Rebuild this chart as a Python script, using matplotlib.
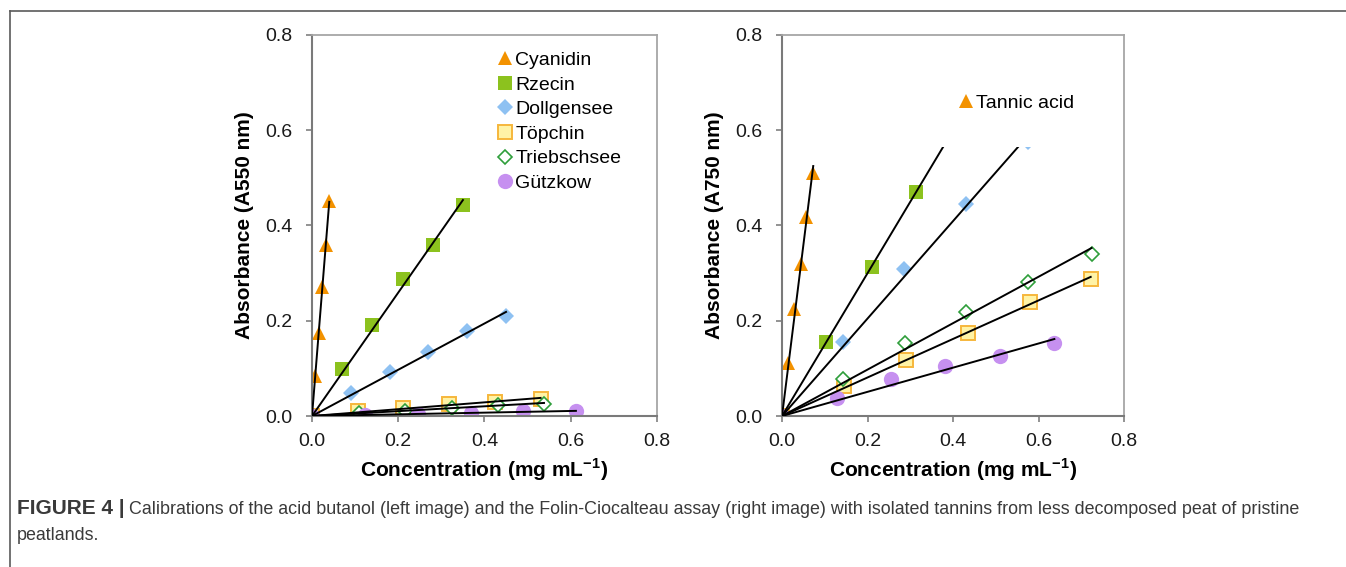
import matplotlib
matplotlib.use("Agg")
import matplotlib.pyplot as plt
import numpy as np
from matplotlib.lines import Line2D
from matplotlib.patches import Rectangle

plt.rcParams["font.family"] = ["Liberation Sans", "DejaVu Sans"]
plt.rcParams["mathtext.fontset"] = "custom"
plt.rcParams["mathtext.rm"] = "Liberation Sans"
plt.rcParams["mathtext.bf"] = "Liberation Sans:bold"

# acid butanol assay (A550)
cyanidin_x = [0, 0.008, 0.016, 0.024, 0.032, 0.040]
cyanidin_y = [0, 0.083, 0.175, 0.271, 0.360, 0.452]
rzecin_x = [0, 0.07, 0.14, 0.21, 0.28, 0.35]
rzecin_y = [0, 0.098, 0.192, 0.288, 0.358, 0.442]
dollgensee_x = [0, 0.09, 0.18, 0.27, 0.36, 0.45]
dollgensee_y = [0, 0.048, 0.092, 0.135, 0.178, 0.211]
toepchin_x = [0, 0.106, 0.212, 0.318, 0.424, 0.53]
toepchin_y = [0, 0.011, 0.016, 0.025, 0.030, 0.036]
triebschsee_x = [0, 0.108, 0.216, 0.324, 0.431, 0.538]
triebschsee_y = [0, 0.007, 0.011, 0.017, 0.023, 0.026]
guetzkow_x = [0, 0.124, 0.246, 0.368, 0.49, 0.612]
guetzkow_y = [0, 0.003, 0.004, 0.006, 0.010, 0.010]

# Folin-Ciocalteau assay (A750)
tannic_x = [0, 0.015, 0.029, 0.044, 0.057, 0.073]
tannic_y = [0, 0.111, 0.224, 0.319, 0.418, 0.510]
rzecin750_x = [0, 0.103, 0.21, 0.313]
rzecin750_y = [0, 0.156, 0.313, 0.470]
dollgensee750_x = [0, 0.143, 0.286, 0.43, 0.576]
dollgensee750_y = [0, 0.156, 0.309, 0.445, 0.575]
toepchin750_x = [0, 0.145, 0.29, 0.434, 0.579, 0.722]
toepchin750_y = [0, 0.063, 0.118, 0.174, 0.239, 0.288]
triebschsee750_x = [0, 0.143, 0.288, 0.43, 0.576, 0.724]
triebschsee750_y = [0, 0.078, 0.153, 0.218, 0.282, 0.340]
guetzkow750_x = [0, 0.128, 0.255, 0.381, 0.51, 0.637]
guetzkow750_y = [0, 0.037, 0.078, 0.105, 0.125, 0.154]

styles = {
    "Cyanidin": dict(marker="^", ms=10.5, mfc="#F39200", mec="#F39200", mew=0),
    "Rzecin": dict(marker="s", ms=10.5, mfc="#8CC21E", mec="#8CC21E", mew=0),
    "Dollgensee": dict(marker="D", ms=8.5, mfc="#8EC1F2", mec="#8EC1F2", mew=0),
    "Töpchin": dict(marker="s", ms=10, mfc="#FFF3A6", mec="#F6B73C", mew=1.4),
    "Triebschsee": dict(marker="D", ms=7.5, mfc="white", mec="#2E9E3A", mew=1.2),
    "Gützkow": dict(marker="o", ms=11, mfc="#C690F0", mec="#C690F0", mew=0),
}


def series(ax, x, y, name, label=None, fit_end=None):
    x = np.asarray(x)
    y = np.asarray(y)
    ax.plot(x, y, ls="none", zorder=2, label=label, **styles[name])
    # linear trendline forced through zero
    k = (x * y).sum() / (x * x).sum()
    end = x.max() if fit_end is None else fit_end
    ax.plot([0, end], [0, k * end], color="black", lw=1.4, zorder=3)


def frame(ax, ylabel):
    ax.set_xlim(0, 0.8)
    ax.set_ylim(0, 0.8)
    ax.set_xticks(np.arange(0, 0.81, 0.2))
    ax.set_yticks(np.arange(0, 0.81, 0.2))
    ax.xaxis.set_major_formatter(matplotlib.ticker.FormatStrFormatter("%.1f"))
    ax.yaxis.set_major_formatter(matplotlib.ticker.FormatStrFormatter("%.1f"))
    ax.tick_params(axis="both", direction="out", length=4, width=1.2,
                   color="#808080", labelsize=14, labelcolor="#1a1a1a")
    ax.tick_params(axis="x", pad=8)
    ax.tick_params(axis="y", pad=10)
    for side in ("left", "bottom"):
        ax.spines[side].set_color("#7a7a7a")
        ax.spines[side].set_linewidth(1.5)
    for side in ("top", "right"):
        ax.spines[side].set_color("#a6a6a6")
        ax.spines[side].set_linewidth(1.3)
    ax.set_xlabel(r"Concentration (mg mL$^{\mathbf{-1}}$)", fontsize=15,
                  fontweight="bold", labelpad=5)
    ax.set_ylabel(ylabel, fontsize=15, fontweight="bold", labelpad=8)


fig = plt.figure(figsize=(13.46, 5.67), dpi=100)
ax1 = fig.add_axes([0.2318, 0.2663, 0.2563, 0.672])
ax2 = fig.add_axes([0.581, 0.2663, 0.2541, 0.672])

series(ax1, cyanidin_x, cyanidin_y, "Cyanidin", "Cyanidin")
series(ax1, rzecin_x, rzecin_y, "Rzecin", "Rzecin")
series(ax1, dollgensee_x, dollgensee_y, "Dollgensee", "Dollgensee")
series(ax1, toepchin_x, toepchin_y, "Töpchin", "Töpchin")
series(ax1, triebschsee_x, triebschsee_y, "Triebschsee", "Triebschsee")
series(ax1, guetzkow_x, guetzkow_y, "Gützkow", "Gützkow")
frame(ax1, "Absorbance (A550 nm)")
leg1 = ax1.legend(loc="upper left", bbox_to_anchor=(0.539, 0.957), frameon=False,
                  fontsize=14, handlelength=0.7, handletextpad=0.2,
                  labelspacing=0.36, borderpad=0, borderaxespad=0)

series(ax2, tannic_x, tannic_y, "Cyanidin", "Tannic acid")
series(ax2, rzecin750_x, rzecin750_y, "Rzecin", fit_end=0.45)
series(ax2, dollgensee750_x, dollgensee750_y, "Dollgensee")
series(ax2, toepchin750_x, toepchin750_y, "Töpchin")
series(ax2, triebschsee750_x, triebschsee750_y, "Triebschsee")
series(ax2, guetzkow750_x, guetzkow750_y, "Gützkow")
frame(ax2, "Absorbance (A750 nm)")
# white legend box hides the top of the plot area
ax2.add_patch(Rectangle((0.3, 0.565), 0.495, 0.232, facecolor="white",
                        edgecolor="none", zorder=4))
leg2 = ax2.legend(loc="upper left", bbox_to_anchor=(0.517, 0.845), frameon=False,
                  fontsize=14, handlelength=0.7, handletextpad=0.2,
                  borderpad=0, borderaxespad=0)
leg2.set_zorder(5)

# page frame lines
fig.add_artist(Line2D([9.5 / 1346, 1], [1 - 10.5 / 567, 1 - 10.5 / 567],
                      transform=fig.transFigure, color="#5a5a5a", lw=1.2))
fig.add_artist(Line2D([9.5 / 1346, 9.5 / 1346], [0, 1 - 10.5 / 567],
                      transform=fig.transFigure, color="#5a5a5a", lw=1.2))

cap_color = "#3a3a3a"
t1 = fig.text(17 / 1346, 1 - 509 / 567, "FIGURE 4 |", fontsize=15,
              fontweight="bold", color=cap_color, va="center", ha="left")
ax1.annotate("Calibrations of the acid butanol (left image) and the Folin-Ciocalteau "
             "assay (right image) with isolated tannins from less decomposed peat of pristine",
             xy=(1, 0.5), xycoords=t1, xytext=(3, 0), textcoords="offset points",
             fontsize=12.85, color=cap_color, va="center", ha="left",
             annotation_clip=False)
fig.text(17 / 1346, 1 - 535 / 567, "peatlands.", fontsize=12.85,
         color=cap_color, va="center", ha="left")

fig.savefig("out.png", dpi=100)
